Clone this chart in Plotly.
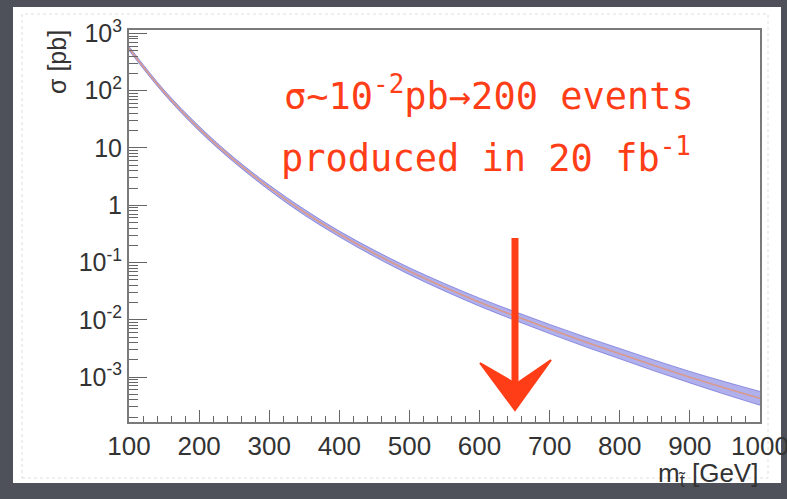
import plotly.graph_objects as go

# ---- data ----
mass = [100, 150, 200, 250, 300, 350, 400, 450, 500, 550,
        600, 650, 700, 750, 800, 850, 900, 950, 1000]
xsec = [547, 95, 21.8, 6.14, 2.03, 0.755, 0.315, 0.144, 0.0705, 0.037,
        0.0203, 0.0117, 0.00689, 0.00415, 0.00256, 0.00158, 0.000995, 0.000643, 0.000425]
# half-width of the uncertainty band, in decades
band_dex = [0.035, 0.035, 0.04, 0.04, 0.045, 0.05, 0.05, 0.055, 0.06, 0.065,
            0.07, 0.075, 0.08, 0.085, 0.09, 0.095, 0.10, 0.11, 0.12]

x_ticks = [100, 200, 300, 400, 500, 600, 700, 800, 900, 1000]
y_tickvals = [1e-3, 1e-2, 1e-1, 1, 10, 100, 1000]
y_ticktext = ["10<sup>-3</sup>", "10<sup>-2</sup>", "10<sup>-1</sup>", "1", "10",
              "10<sup>2</sup>", "10<sup>3</sup>"]

note_line1 = "σ~10<sup>-2</sup>pb→200 events"
note_line2 = "produced in 20 fb<sup>-1</sup>"

upper = [s * 10 ** d for s, d in zip(xsec, band_dex)]
lower = [s / 10 ** d for s, d in zip(xsec, band_dex)]

W, H = 787, 499
L, R, T, B = 129, 27, 30, 77
pw, ph = W - L - R, H - T - B


def px(xp):
    return (xp - L) / pw


def py(yp):
    return (H - B - yp) / ph


def ppath(points):
    return "M " + " L ".join(f"{px(a):.4f},{py(b):.4f}" for a, b in points) + " Z"


RED = "#ff3d17"

fig = go.Figure()
fig.add_trace(go.Scatter(x=mass, y=lower, mode="lines",
                         line=dict(color="rgba(110,110,215,0.7)", width=1, shape="spline"),
                         hoverinfo="skip", showlegend=False))
fig.add_trace(go.Scatter(x=mass, y=upper, mode="lines", fill="tonexty",
                         fillcolor="rgba(150,150,230,0.75)",
                         line=dict(color="rgba(110,110,215,0.7)", width=1, shape="spline"),
                         hoverinfo="skip", showlegend=False))
fig.add_trace(go.Scatter(x=mass, y=xsec, mode="lines",
                         line=dict(color="#d99a8c", width=1.6, shape="spline"),
                         showlegend=False))

fig.update_layout(
    width=W, height=H,
    margin=dict(l=L, r=R, t=T, b=B, autoexpand=False),
    paper_bgcolor="#4e5159",
    plot_bgcolor="white",
    font=dict(family="Liberation Sans, Arial, sans-serif", color="#333333"),
    xaxis=dict(range=[100, 1000.01], tickvals=x_ticks, ticks="inside", ticklen=12,
               tickwidth=1.2, tickcolor="#666", showgrid=False, zeroline=False,
               showline=True, linecolor="#7a7a7a", linewidth=2, mirror=True,
               ticklabeloverflow="allow", automargin=False,
               tickfont=dict(size=26, color="#333"),
               minor=dict(ticks="inside", ticklen=6, tickcolor="#666", dtick=20,
                          showgrid=False)),
    yaxis=dict(type="log", range=[-3.785, 3.06], tickvals=y_tickvals,
               ticktext=y_ticktext, ticks="inside", ticklen=18, tickwidth=1.2,
               tickcolor="#666", showgrid=False, zeroline=False, showline=True,
               linecolor="#7a7a7a", linewidth=2, mirror=True,
               ticklabeloverflow="allow", automargin=False,
               tickfont=dict(size=25, color="#333"),
               minor=dict(ticks="inside", ticklen=9, tickcolor="#666", dtick="D1",
                          showgrid=False)),
    shapes=[
        dict(type="rect", xref="paper", yref="paper", layer="below",
             x0=px(13), x1=px(781), y0=py(483), y1=py(7),
             fillcolor="white", line=dict(width=0)),
        dict(type="rect", xref="paper", yref="paper", layer="below",
             x0=px(22), x1=px(768), y0=py(478), y1=py(14),
             fillcolor="rgba(0,0,0,0)", line=dict(color="#dedede", width=1, dash="dot")),
        # hand-drawn arrow: shaft and head
        dict(type="line", xref="paper", yref="paper",
             x0=px(515), y0=py(238), x1=px(515), y1=py(392),
             line=dict(color=RED, width=7)),
        dict(type="path", xref="paper", yref="paper",
             path=ppath([(480, 363), (515, 410), (551, 360), (516, 384)]),
             fillcolor=RED, line=dict(color=RED, width=2)),
    ],
    annotations=[
        dict(text="σ [pb]", xref="paper", yref="paper", x=px(57), y=py(62),
             xanchor="center", yanchor="middle",
             textangle=-90, showarrow=False, font=dict(size=25, color="#333")),
        dict(text="m<sub>t̃</sub> [GeV]", xref="paper", yref="paper", x=px(760), y=py(474),
             xanchor="right", yanchor="middle", showarrow=False,
             font=dict(size=26, color="#333")),
        dict(text=note_line1, xref="paper", yref="paper", x=px(489), y=py(93),
             xanchor="center", yanchor="middle",
             showarrow=False, font=dict(family="DejaVu Sans Mono", size=37, color=RED)),
        dict(text=note_line2, xref="paper", yref="paper", x=px(486), y=py(155),
             xanchor="center", yanchor="middle",
             showarrow=False, font=dict(family="DejaVu Sans Mono", size=37, color=RED)),
    ],
)

fig.write_html("out.html")
